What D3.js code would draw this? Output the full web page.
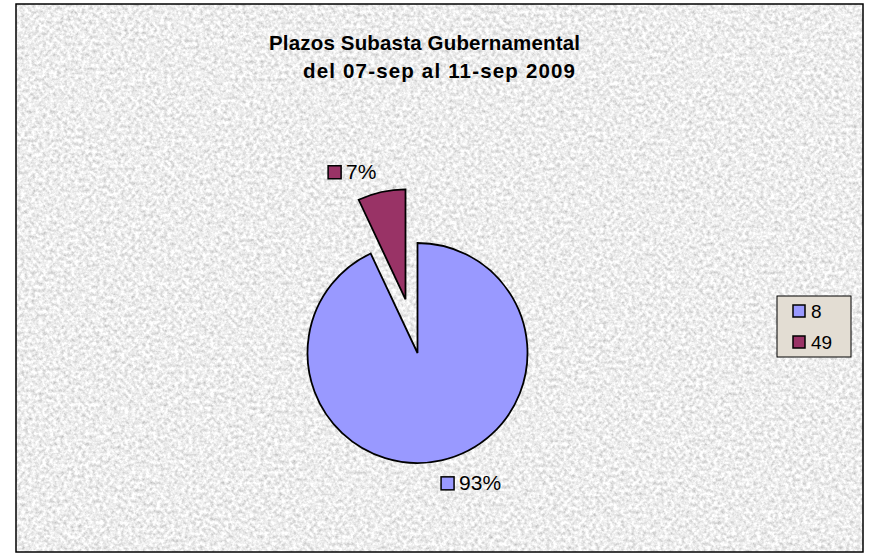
<!DOCTYPE html>
<html>
<head>
<meta charset="utf-8">
<script src="https://cdn.jsdelivr.net/npm/d3@7"></script>
<style>
  body { margin: 0; background: #fff; }
  text { font-family: "Liberation Sans", Arial, sans-serif; fill: #000; }
</style>
</head>
<body>
<script>
const titleLines = ['Plazos Subasta Gubernamental', 'del 07-sep al 11-sep 2009'];
const categories = ['8', '49'];
const shares = [93, 7];

const width = 873, height = 555;
const cx = 417.5, cy = 353, radius = 110;
const explode = [0, 55];

const color = d3.scaleOrdinal().domain(categories).range(['#9999ff', '#993366']);

const svg = d3.select('body').append('svg')
  .attr('width', width)
  .attr('height', height);

// grey marble-ish background texture
const filter = svg.append('defs').append('filter')
  .attr('id', 'paper')
  .attr('x', 0).attr('y', 0).attr('width', '100%').attr('height', '100%');
filter.append('feTurbulence')
  .attr('type', 'fractalNoise')
  .attr('baseFrequency', 0.28)
  .attr('numOctaves', 4)
  .attr('seed', 7);
filter.append('feColorMatrix')
  .attr('type', 'matrix')
  .attr('values', '0.8 0 0 0 0.45  0.8 0 0 0 0.45  0.8 0 0 0 0.45  0 0 0 0 1');

svg.append('rect')
  .attr('x', 16).attr('y', 4)
  .attr('width', 847).attr('height', 548)
  .attr('filter', 'url(#paper)');
svg.append('rect')
  .attr('x', 16).attr('y', 4)
  .attr('width', 847).attr('height', 548)
  .attr('fill', 'none')
  .attr('stroke', '#000')
  .attr('stroke-width', 1.5);

// title
svg.selectAll('.title')
  .data(titleLines)
  .enter()
  .append('text')
  .attr('class', 'title')
  .attr('x', (d, i) => [269, 303][i])
  .attr('y', (d, i) => 50 + i * 28)
  .attr('textLength', (d, i) => [311, 272][i])
  .attr('lengthAdjust', 'spacing')
  .style('font-size', '20.5px')
  .style('font-weight', 'bold')
  .text(d => d);

const pie = d3.pie().sort(null).value(d => d.value);
const arcs = pie(categories.map((c, i) => ({ key: c, value: shares[i] })));
const arc = d3.arc().innerRadius(0).outerRadius(radius);
const mid = d => (d.startAngle + d.endAngle) / 2;

const slices = svg.append('g').attr('transform', `translate(${cx},${cy})`);
slices.selectAll('path')
  .data(arcs)
  .enter()
  .append('path')
  .attr('d', arc)
  .attr('transform', (d, i) => `translate(${Math.sin(mid(d)) * explode[i]},${-Math.cos(mid(d)) * explode[i]})`)
  .attr('fill', d => color(d.data.key))
  .attr('stroke', '#000')
  .attr('stroke-width', 1.8)
  .attr('stroke-linejoin', 'miter');

// data labels, placed outside each slice
const labelTilt = -8.3 * Math.PI / 180;
const labels = slices.selectAll('.lbl')
  .data(arcs)
  .enter()
  .append('g')
  .attr('class', 'lbl')
  .attr('transform', (d, i) => {
    const a = mid(d) + labelTilt;
    const r = radius + 29 + explode[i];
    return `translate(${Math.sin(a) * r + 4},${-Math.cos(a) * r})`;
  });
labels.append('text')
  .attr('y', 7)
  .style('font-size', '21px')
  .text(d => `${d.data.value}%`);
labels.each(function (d) {
  const g = d3.select(this);
  const t = g.select('text');
  const w = t.node().getComputedTextLength();
  const total = 13 + 5 + w;
  g.insert('rect', 'text')
    .attr('x', -total / 2)
    .attr('y', -6)
    .attr('width', 13)
    .attr('height', 13)
    .attr('fill', color(d.data.key))
    .attr('stroke', '#000')
    .attr('stroke-width', 1.5);
  t.attr('x', -total / 2 + 18);
});

// legend
const legend = svg.append('g').attr('transform', 'translate(777,296)');
legend.append('rect')
  .attr('width', 74).attr('height', 61)
  .attr('fill', '#e3ddd3')
  .attr('stroke', '#000')
  .attr('stroke-width', 1);
const items = legend.selectAll('.item')
  .data(categories)
  .enter()
  .append('g')
  .attr('class', 'item')
  .attr('transform', (d, i) => `translate(16,${15 + i * 31})`);
items.append('rect')
  .attr('width', 12).attr('height', 12)
  .attr('y', -6)
  .attr('fill', d => color(d))
  .attr('stroke', '#000')
  .attr('stroke-width', 1.5);
items.append('text')
  .attr('x', 18)
  .attr('y', 7)
  .style('font-size', '19px')
  .text(d => d);
</script>
</body>
</html>
